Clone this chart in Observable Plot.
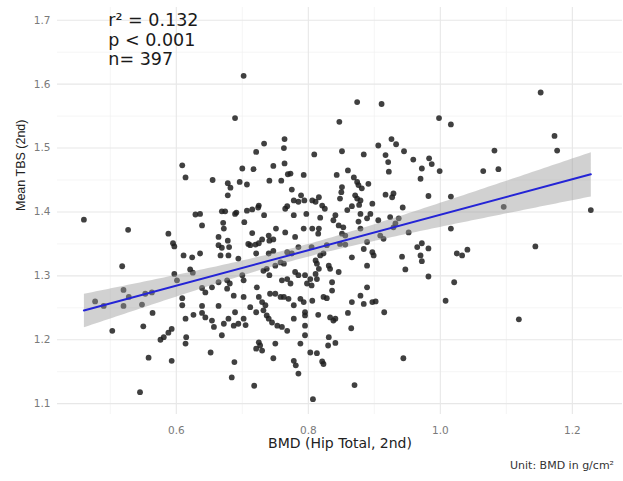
<!DOCTYPE html>
<html><head><meta charset="utf-8">
<script src="https://cdn.jsdelivr.net/npm/d3@7"></script>
<script src="https://cdn.jsdelivr.net/npm/@observablehq/plot@0.6"></script>
<style>
body{margin:0;background:#fff;}
#cap{width:623px;text-align:right;font:11px "DejaVu Sans";color:#333;margin-top:4px;line-height:13px;box-sizing:border-box;padding-right:9px;}
</style></head><body>
<div id="chart"></div>
<div id="cap"></div>
<script>
const xTitle = "BMD (Hip Total, 2nd)";
const yTitle = "Mean TBS (2nd)";
const caption = "Unit: BMD in g/cm²";
const annotLines = ["r² = 0.132", "p < 0.001", "n= 397"];
const annotX = 0.497, annotY = 1.670;
const xDomain = [0.42, 1.276];
const yDomain = [1.083, 1.72];
const xMajor = [0.6, 0.8, 1.0, 1.2];
const xMinor = [0.5, 0.7, 0.9, 1.1];
const yMajor = [1.1, 1.2, 1.3, 1.4, 1.5, 1.6, 1.7];
const yMinor = [1.15, 1.25, 1.35, 1.45, 1.55, 1.65];

const bmd = [
0.460,0.527,0.518,0.477,0.490,0.520,0.520,0.528,
0.548,0.553,0.503,0.550,0.558,0.545,0.563,0.564,
0.689,0.764,0.763,0.733,0.721,0.609,0.614,0.700,
0.717,0.747,0.764,0.769,0.773,0.655,0.678,0.682,
0.696,0.707,0.741,0.759,0.793,0.775,0.678,0.778,
0.785,0.789,0.768,0.765,0.778,0.794,0.797,0.669,
0.674,0.689,0.691,0.707,0.715,0.725,0.724,0.733,
0.629,0.636,0.639,0.671,0.672,0.703,0.751,0.765,
0.793,0.588,0.595,0.597,0.664,0.678,0.664,0.669,
0.680,0.715,0.709,0.712,0.720,0.725,0.730,0.740,
0.741,0.747,0.780,0.785,0.611,0.624,0.636,0.667,
0.679,0.694,0.721,0.740,0.747,0.768,0.775,0.702,
0.874,0.911,0.847,0.998,1.016,0.906,0.926,0.933,
0.945,0.809,0.851,0.884,0.917,0.921,0.922,0.959,
0.983,0.987,0.972,0.999,0.970,0.843,0.860,0.869,
0.874,0.876,0.881,0.891,0.851,0.850,0.848,0.871,
0.874,0.879,0.877,0.917,0.927,0.929,0.982,1.016,
0.806,0.816,0.821,0.825,0.811,0.859,0.866,0.897,
0.894,0.879,0.943,0.818,0.806,0.841,0.838,0.846,
0.853,0.876,0.889,0.906,0.924,0.937,0.932,0.929,
0.816,0.815,0.851,0.856,0.879,0.909,0.914,0.952,
1.016,0.805,0.828,0.823,0.818,0.848,0.856,0.889,
0.884,0.897,0.899,0.965,0.972,0.982,0.970,1.025,
1.033,0.866,0.942,
0.597,0.601,0.621,0.625,0.639,0.654,0.644,0.664,
0.677,0.681,0.677,0.700,0.702,0.722,0.732,0.737,
0.741,0.750,0.758,0.763,0.760,0.768,0.773,0.780,
0.785,0.795,0.798,0.609,0.609,0.614,0.626,0.639,
0.644,0.664,0.639,0.687,0.689,0.702,0.712,0.721,
0.725,0.730,0.735,0.732,0.737,0.740,0.745,0.753,
0.760,0.768,0.742,0.750,0.758,0.763,0.770,0.778,
0.788,0.793,0.795,0.795,0.778,0.795,0.654,0.657,
0.672,0.679,0.687,0.694,0.702,0.705,0.669,0.593,
0.588,0.581,0.576,0.615,0.614,0.652,0.593,0.725,
0.727,0.730,0.721,0.750,0.747,0.778,0.781,0.785,
0.688,0.684,0.718,0.788,0.795,
0.811,0.813,0.816,0.811,0.813,0.805,0.803,0.831,
0.833,0.846,0.836,0.836,0.889,0.947,0.972,0.982,
1.021,0.889,0.879,0.866,0.884,0.897,0.902,0.915,
1.008,0.806,0.823,0.828,0.815,0.833,0.838,0.841,
0.860,0.865,0.831,0.830,0.841,0.803,0.813,0.821,
0.823,0.870,0.807,0.944,
1.152,1.173,1.177,1.082,1.065,1.088,1.096,1.228,
1.041,1.144,1.119
];
const tbs = [
1.388,1.372,1.315,1.260,1.253,1.278,1.253,1.267,
1.255,1.272,1.214,1.221,1.172,1.118,1.274,1.242,
1.547,1.514,1.500,1.507,1.494,1.473,1.454,1.468,
1.467,1.472,1.476,1.459,1.460,1.450,1.445,1.438,
1.447,1.443,1.449,1.449,1.458,1.435,1.426,1.418,
1.416,1.426,1.409,1.405,1.395,1.418,1.397,1.401,
1.401,1.397,1.399,1.402,1.404,1.410,1.407,1.395,
1.396,1.397,1.379,1.383,1.374,1.384,1.374,1.368,
1.374,1.366,1.351,1.346,1.361,1.355,1.348,1.344,
1.345,1.367,1.350,1.348,1.349,1.351,1.357,1.363,
1.355,1.357,1.361,1.345,1.332,1.329,1.335,1.332,
1.332,1.327,1.335,1.335,1.339,1.337,1.335,1.613,
1.572,1.569,1.541,1.547,1.537,1.504,1.514,1.506,
1.495,1.490,1.495,1.490,1.489,1.478,1.463,1.482,
1.484,1.475,1.468,1.464,1.452,1.458,1.465,1.454,
1.447,1.442,1.437,1.444,1.439,1.431,1.421,1.426,
1.421,1.418,1.411,1.427,1.423,1.429,1.425,1.424,
1.418,1.423,1.410,1.405,1.416,1.403,1.409,1.413,
1.397,1.397,1.407,1.391,1.374,1.395,1.387,1.379,
1.376,1.385,1.390,1.387,1.392,1.390,1.382,1.376,
1.374,1.366,1.366,1.363,1.374,1.363,1.358,1.368,
1.374,1.345,1.348,1.335,1.332,1.350,1.349,1.353,
1.342,1.337,1.332,1.345,1.351,1.343,1.332,1.335,
1.332,1.329,1.330,
1.303,1.293,1.310,1.305,1.281,1.282,1.274,1.290,
1.293,1.288,1.280,1.301,1.293,1.282,1.308,1.311,
1.301,1.316,1.321,1.319,1.293,1.295,1.288,1.306,
1.301,1.301,1.288,1.265,1.254,1.233,1.239,1.242,
1.235,1.253,1.253,1.269,1.243,1.267,1.251,1.243,
1.267,1.259,1.254,1.246,1.238,1.233,1.227,1.222,
1.220,1.214,1.272,1.272,1.267,1.267,1.264,1.254,
1.264,1.259,1.243,1.238,1.233,1.222,1.230,1.220,
1.225,1.233,1.222,1.225,1.233,1.223,1.207,1.217,
1.211,1.204,1.200,1.204,1.194,1.180,1.167,1.196,
1.191,1.183,1.186,1.194,1.171,1.167,1.160,1.147,
1.165,1.141,1.128,1.194,1.207,
1.324,1.319,1.311,1.303,1.295,1.285,1.295,1.316,
1.311,1.306,1.290,1.277,1.316,1.310,1.323,1.299,
1.290,1.282,1.269,1.259,1.256,1.259,1.260,1.243,
1.261,1.261,1.267,1.265,1.239,1.235,1.230,1.233,
1.242,1.218,1.204,1.191,1.195,1.180,1.179,1.166,
1.162,1.129,1.107,1.171,
1.587,1.519,1.496,1.496,1.464,1.467,1.408,1.403,
1.341,1.346,1.232
];

const data = bmd.map((x, i) => ({bmd: x, tbs: tbs[i]}));
const fmt = d3.format(".1f");

const chart = Plot.plot({
  width: 623, height: 455,
  marginLeft: 57, marginRight: 1, marginTop: 7, marginBottom: 41,
  style: {fontFamily: "DejaVu Sans", fontSize: "10.5px", background: "#fff"},
  x: {domain: xDomain},
  y: {domain: yDomain},
  marks: [
    Plot.ruleX(xMinor, {stroke: "#f1f1f1", strokeWidth: 0.7}),
    Plot.ruleY(yMinor, {stroke: "#f1f1f1", strokeWidth: 0.7}),
    Plot.ruleX(xMajor, {stroke: "#e7e7e7", strokeWidth: 1.1}),
    Plot.ruleY(yMajor, {stroke: "#e7e7e7", strokeWidth: 1.1}),
    Plot.axisX({ticks: xMajor, tickSize: 0, tickPadding: 12, tickFormat: fmt, color: "#7a7a7a", label: null}),
    Plot.axisY({ticks: yMajor, tickSize: 0, tickPadding: 7, tickFormat: fmt, color: "#7a7a7a", label: null}),
    Plot.dot(data, {x: "bmd", y: "tbs", r: 2.9, fill: "#1e1e1e", fillOpacity: 0.85, stroke: "none"}),
    Plot.linearRegressionY(data, {x: "bmd", y: "tbs", stroke: "#2424d6", strokeWidth: 2, fill: "#999", fillOpacity: 0.45, ci: 0.95}),
    Plot.text([xTitle], {frameAnchor: "bottom", dy: 33, fontSize: 14, fill: "#222"}),
    Plot.text([yTitle], {frameAnchor: "left", dx: -37, rotate: -90, fontSize: 12.5, fill: "#222", fontFamily: "Liberation Sans"}),
    Plot.text([annotLines.join("\n")], {x: [annotX], y: [annotY], textAnchor: "start", lineAnchor: "middle", fontSize: 17.5, lineHeight: 1.1, fill: "#1a1a1a"})
  ]
});
document.getElementById("chart").appendChild(chart);
document.getElementById("cap").textContent = caption;
</script>
</body></html>
